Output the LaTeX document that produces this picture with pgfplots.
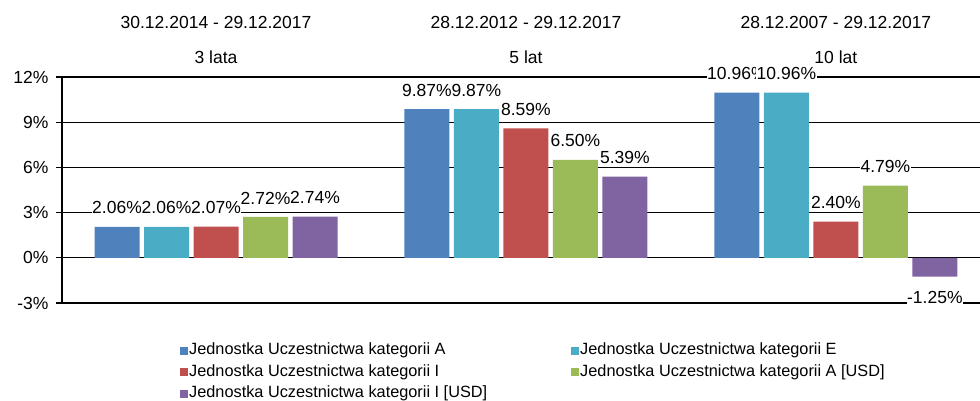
\documentclass[border=0pt]{standalone}
\usepackage{fontspec}
\setmainfont{Liberation Sans}
\usepackage{pgfplots}
\pgfplotsset{compat=1.18}
\definecolor{cA}{HTML}{4F81BD}
\definecolor{cE}{HTML}{4BACC6}
\definecolor{cI}{HTML}{C0504D}
\definecolor{cAU}{HTML}{9BBB59}
\definecolor{cIU}{HTML}{8064A2}
\newcommand{\mainf}{\fontsize{17.5}{21}\selectfont}
\newcommand{\legf}{\fontsize{16.3}{19}\selectfont}
\begin{document}
\begin{tikzpicture}
\begin{axis}[
  width=918pt, height=226pt, scale only axis,
  xmin=-0.497, xmax=2.465, ymin=-3, ymax=12,
  /pgf/number format/assume math mode=true,
  ytick={-3,0,3,6,9,12},
  yticklabel={\pgfmathprintnumber{\tick}\%},
  yticklabel style={font=\mainf, xshift=-4pt},
  axis x line*=bottom, axis y line*=left,
  axis line style={black, line width=1.1pt},
  ymajorgrids, grid style={black, line width=1.1pt},
  tick align=outside, major tick length=6pt,
  ytick style={black, line width=1.1pt},
  xtick={0,1,2},
  xticklabels={{30.12.2014 - 29.12.2017\\[14pt]3 lata},{28.12.2012 - 29.12.2017\\[14pt]5 lat},{28.12.2007 - 29.12.2017\\[14pt]10 lat}},
  xtick style={draw=none},
  xticklabel style={font=\mainf, align=center, anchor=south, inner sep=0pt, yshift=245pt},
  ybar=4.5pt, bar width=45pt,
  visualization depends on={rawy \as \rawy},
  nodes near coords={\pgfmathprintnumber[fixed,fixed zerofill,precision=2]{\pgfplotspointmeta}\%},
  nodes near coords style={font=\mainf, fill=white, inner xsep=0.5pt, inner ysep=2pt, text=black,
    yshift={\rawy<0 ? -12 : 10.5}},
  legend columns=2,
  legend cell align=left,
  legend image code/.code={\draw[#1,draw=none] (0pt,-4pt) rectangle (8pt,4pt);},
  legend style={at={(axis description cs:0,0)}, anchor=north west, xshift=118pt, yshift=-37pt,
    draw=none, fill=none, font=\legf, inner sep=0pt, row sep=0pt,
    nodes={inner xsep=1pt, inner ysep=2.75pt, text height=12pt, text depth=4pt},
    /tikz/every even column/.append style={column sep=83pt}},
]
\addplot[fill=cA, draw=none] coordinates {(0,2.06) (1,9.87) (2,10.96)};
\addplot[fill=cE, draw=none] coordinates {(0,2.06) (1,9.87) (2,10.96)};
\addplot[fill=cI, draw=none] coordinates {(0,2.07) (1,8.59) (2,2.40)};
\addplot[fill=cAU, draw=none] coordinates {(0,2.72) (1,6.50) (2,4.79)};
\addplot[fill=cIU, draw=none] coordinates {(0,2.74) (1,5.39) (2,-1.25)};
\legend{Jednostka Uczestnictwa kategorii A, Jednostka Uczestnictwa kategorii E, Jednostka Uczestnictwa kategorii I, Jednostka Uczestnictwa kategorii A [USD], Jednostka Uczestnictwa kategorii I [USD]}
\coordinate (bl) at (rel axis cs:0,0);
\coordinate (tr) at (rel axis cs:1,1);
\end{axis}
\pgfresetboundingbox
\path[use as bounding box] ([shift={(-62pt,-98pt)}]bl) rectangle ([shift={(0pt,77pt)}]tr);
\end{tikzpicture}
\end{document}
